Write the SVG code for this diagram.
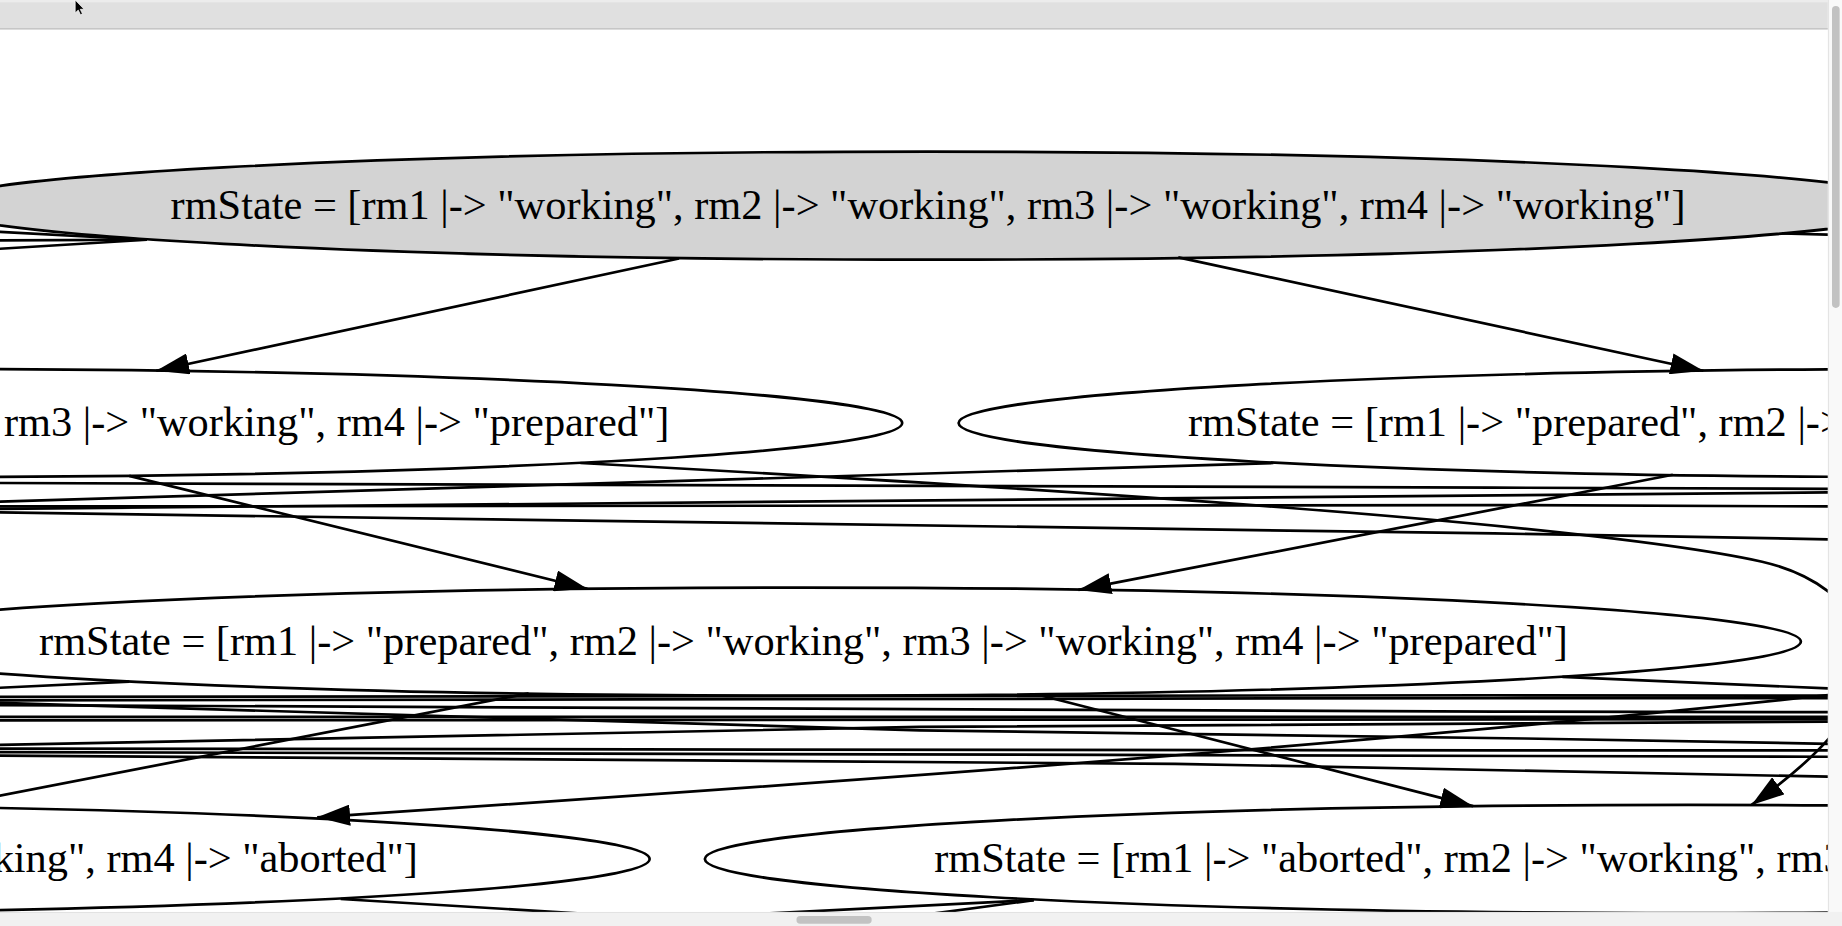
<svg xmlns="http://www.w3.org/2000/svg" width="1842" height="926" viewBox="0 0 1842 926">
<style>
.node ellipse{stroke:#000;stroke-width:2.3;fill:#fff}
#n_www ellipse{fill:#d3d3d3}
.node text{font-family:"Liberation Serif","Times New Roman",serif;font-size:36.06px;text-anchor:middle;fill:#000}
.edge{fill:none;stroke:#000;stroke-width:2.3}
.arr{marker-end:url(#ah)}
</style>
<defs>
<marker id="ah" viewBox="0 -9 28 18" refX="28" refY="0" markerWidth="28" markerHeight="18" markerUnits="userSpaceOnUse" orient="auto"><path d="M0,-9 L28,0 L0,9 z" fill="#000"/></marker>
<clipPath id="content"><rect x="0" y="25" width="1556" height="751"/></clipPath>
</defs>
<rect width="1842" height="926" fill="#fff"/>
<g transform="scale(1.17474,1.17513)">
<g clip-path="url(#content)">
<rect x="0" y="25" width="1556" height="751" fill="#fff"/>
<g id="n_www" class="node"><ellipse cx="790" cy="175" rx="848" ry="46"/><text x="790" y="186">rmState = [rm1 |-&gt; "working", rm2 |-&gt; "working", rm3 |-&gt; "working", rm4 |-&gt; "working"]</text></g>
<g id="n_wwwp" class="node"><ellipse cx="-78" cy="360" rx="846" ry="46"/><text x="-78" y="371">rmState = [rm1 |-&gt; "working", rm2 |-&gt; "working", rm3 |-&gt; "working", rm4 |-&gt; "prepared"]</text></g>
<g id="n_pwww" class="node"><ellipse cx="1659" cy="360" rx="843" ry="46"/><text x="1659" y="371">rmState = [rm1 |-&gt; "prepared", rm2 |-&gt; "working", rm3 |-&gt; "working", rm4 |-&gt; "working"]</text></g>
<g id="n_pwwp" class="node"><ellipse cx="684" cy="546" rx="849" ry="46"/><text x="684" y="557">rmState = [rm1 |-&gt; "prepared", rm2 |-&gt; "working", rm3 |-&gt; "working", rm4 |-&gt; "prepared"]</text></g>
<g id="n_wwwa" class="node"><ellipse cx="-283" cy="731" rx="836" ry="46"/><text x="-283" y="742">rmState = [rm1 |-&gt; "working", rm2 |-&gt; "working", rm3 |-&gt; "working", rm4 |-&gt; "aborted"]</text></g>
<g id="n_awwp" class="node"><ellipse cx="1437" cy="731" rx="837" ry="46"/><text x="1437" y="742">rmState = [rm1 |-&gt; "aborted", rm2 |-&gt; "working", rm3 |-&gt; "working", rm4 |-&gt; "prepared"]</text></g>
<g id="edges">
<path class="edge arr" d="M578,220 L133,315.5"/>
<path class="edge arr" d="M1003,219 L1450,315.5"/>
<path class="edge" d="M125,204 L-5,197"/>
<path class="edge" d="M125,204 L-5,204.5"/>
<path class="edge" d="M125,204 L-5,212"/>
<path class="edge" d="M1517,198.7 L1560,199.8"/>
<path class="edge arr" d="M110,405 L500,501"/>
<path class="edge arr" d="M1424,404 L918,502"/>
<path class="edge" d="M1084,394 C900,402 500,415 -5,427"/>
<path class="edge arr" d="M494,394 C900,416 1350,445 1500,478 C1560,492 1590,530 1588,560 C1586,610 1540,650 1491,685"/>
<path class="edge" d="M-5,411 C400,412 1000,414 1560,416"/>
<path class="edge" d="M-5,431 C400,429 1000,428 1560,431"/>
<path class="edge" d="M-5,433 C600,431 1100,420 1560,419"/>
<path class="edge" d="M-5,436 C400,439 1000,449 1560,459"/>
<path class="edge" d="M110,580 L-5,585.5"/>
<path class="edge" d="M450,590 L-5,678"/>
<path class="edge arr" d="M883,591 L1254,686"/>
<path class="edge arr" d="M1560,591 C1200,630 800,660 270,695.5"/>
<path class="edge" d="M1330,576 L1560,586"/>
<path class="edge" d="M-5,593 C400,592 1000,591 1560,592"/>
<path class="edge" d="M-5,596 C400,595 1000,594 1560,594"/>
<path class="edge" d="M-5,598 C300,605 600,618 783,621.5 C1000,624 1300,628 1560,633"/>
<path class="edge" d="M-5,600 C400,601 1000,606 1560,606"/>
<path class="edge" d="M-5,610 C400,609.5 800,609 1560,610"/>
<path class="edge" d="M-5,613 C400,612 900,611 1560,612"/>
<path class="edge" d="M-5,634 C300,628 600,621 783,618.6 C1100,616 1400,615 1560,614"/>
<path class="edge" d="M-5,637 C400,638 1000,639 1560,638.5"/>
<path class="edge" d="M-5,640 C400,641 900,642 1560,644"/>
<path class="edge" d="M-5,643 C400,645 783,647 1000,650 C1200,653 1400,657 1560,661"/>
<path class="edge" d="M290,765 L570,782"/>
<path class="edge" d="M880,766 L560,782"/>
<path class="edge" d="M880,766 L760,782"/>
</g>
</g>
<g id="chrome">
<rect x="0" y="0" width="1556" height="25" fill="#e0e0e0"/>
<rect x="0" y="0" width="1556" height="2" fill="#ececec"/>
<line x1="0" y1="24.5" x2="1556" y2="24.5" stroke="#c6c6c6" stroke-width="1.2"/>
<rect x="1556" y="0" width="12" height="788" fill="#f9f9f9"/>
<line x1="1556.5" y1="0" x2="1556.5" y2="776" stroke="#e4e4e4" stroke-width="1"/>
<rect x="1559.5" y="5" width="6.5" height="257" rx="3.2" fill="#c2c2c2"/>
<rect x="0" y="776" width="1568" height="12" fill="#f1f1f1"/>
<line x1="0" y1="776.5" x2="1556" y2="776.5" stroke="#e2e2e2" stroke-width="1"/>
<rect x="678" y="779.5" width="64" height="6.5" rx="3.2" fill="#c2c2c2"/>
<polygon points="64,0 64,11 66.6,8.6 68.5,12.6 70.2,11.8 68.3,7.9 71.6,7.9" fill="#000" stroke="#fff" stroke-width="0.6"/>
</g>
</g>
</svg>
